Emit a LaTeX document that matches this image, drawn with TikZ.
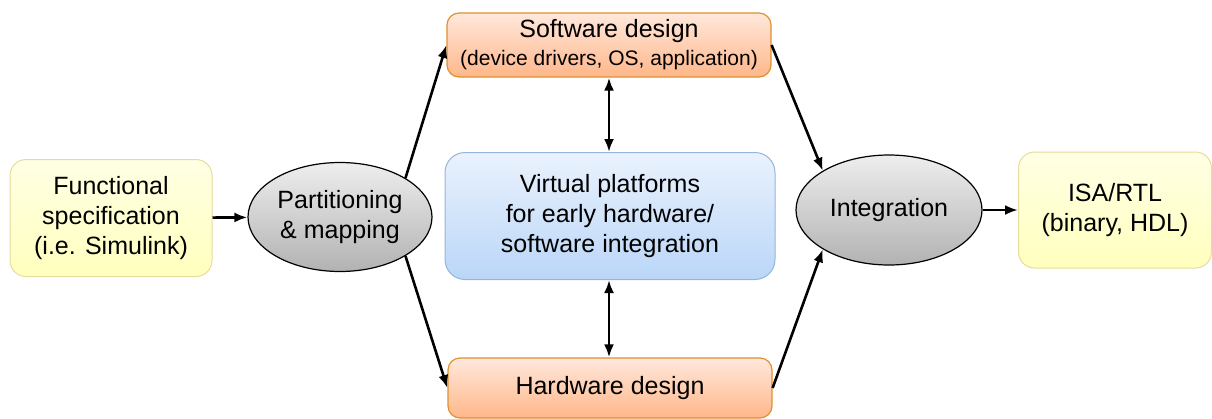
\documentclass[tikz,border=0pt]{standalone}
\usepackage{fontspec}
\setmainfont{Liberation Sans}
\usetikzlibrary{shapes.geometric,arrows.meta}

\definecolor{spectop}{HTML}{FFFFE4}
\definecolor{specbot}{HTML}{FFFFBE}
\definecolor{specline}{HTML}{E6DC9C}
\definecolor{destop}{HTML}{FFE8DC}
\definecolor{desbot}{HTML}{FFB78A}
\definecolor{desline}{HTML}{E0902E}
\definecolor{vptop}{HTML}{EAF2FD}
\definecolor{vpbot}{HTML}{BAD6F8}
\definecolor{vpline}{HTML}{94B4DE}
\definecolor{elltop}{HTML}{EEEEEE}
\definecolor{ellbot}{HTML}{B2B2B2}

\begin{document}
\begin{tikzpicture}[x=1pt, y=-1pt, font=\fontsize{25}{30}\selectfont,
    spec/.style={rectangle, rounded corners=16, draw=specline, line width=1pt, top color=spectop, bottom color=specbot, align=center, inner sep=0pt},
    des/.style={rectangle, rounded corners=12, draw=desline, line width=1.2pt, top color=destop, bottom color=desbot, align=center, inner sep=0pt},
    plat/.style={rectangle, rounded corners=20, draw=vpline, line width=1pt, top color=vptop, bottom color=vpbot, align=center, inner sep=0pt},
    main/.style={draw, ellipse, line width=1.2pt, top color=elltop, bottom color=ellbot, align=center, inner sep=0pt},
    n/.style={-{Latex[length=13pt,width=10pt]}, line width=2.6pt},
    nn/.style={{Latex[length=13pt,width=10pt]}-{Latex[length=13pt,width=10pt]}, line width=2.6pt}]
            \useasboundingbox (0,0) rectangle (1212,418);
            % nodes
            \node[spec, minimum width=202, minimum height=117] (func) at (111,218) {Functional\\specification\\(i.e. Simulink)};
            \node[main, minimum width=184, minimum height=109] (part) at (340,217) {Partitioning\\\& mapping};
            \node[des, minimum width=324, minimum height=64] (sw) at (609,45) {Software design\\[-2pt]{\fontsize{21}{24}\selectfont (device drivers, OS, application)}};
            \node[plat, minimum width=330, minimum height=127] (vp) at (610,216) {Virtual platforms\\for early hardware/\\software integration};
            \node[des, minimum width=324, minimum height=60] (hw) at (610,388) {Hardware design};
            \node[main, minimum width=186, minimum height=110] (integ) at (889,210) {Integration};
            \node[spec, minimum width=193, minimum height=116] (isa) at (1115,210) {ISA/RTL\\(binary, HDL)};
            % edges
            \draw [n] (func) -- (part);
            \draw [n] (part.north east) -- (sw.west);
            \draw [n] (part.south east) -- (hw.west);
            \draw [n] (sw.east) -- (integ.north west);
            \draw [n] (hw.east) -- (integ.south west);
            \draw [n] (integ) -- (isa);
            \draw [nn] (sw.south) -- (vp.north -| sw.south);
            \draw [nn] (vp.south -| sw.south) -- (hw.north -| sw.south);
        \end{tikzpicture}
\end{document}
